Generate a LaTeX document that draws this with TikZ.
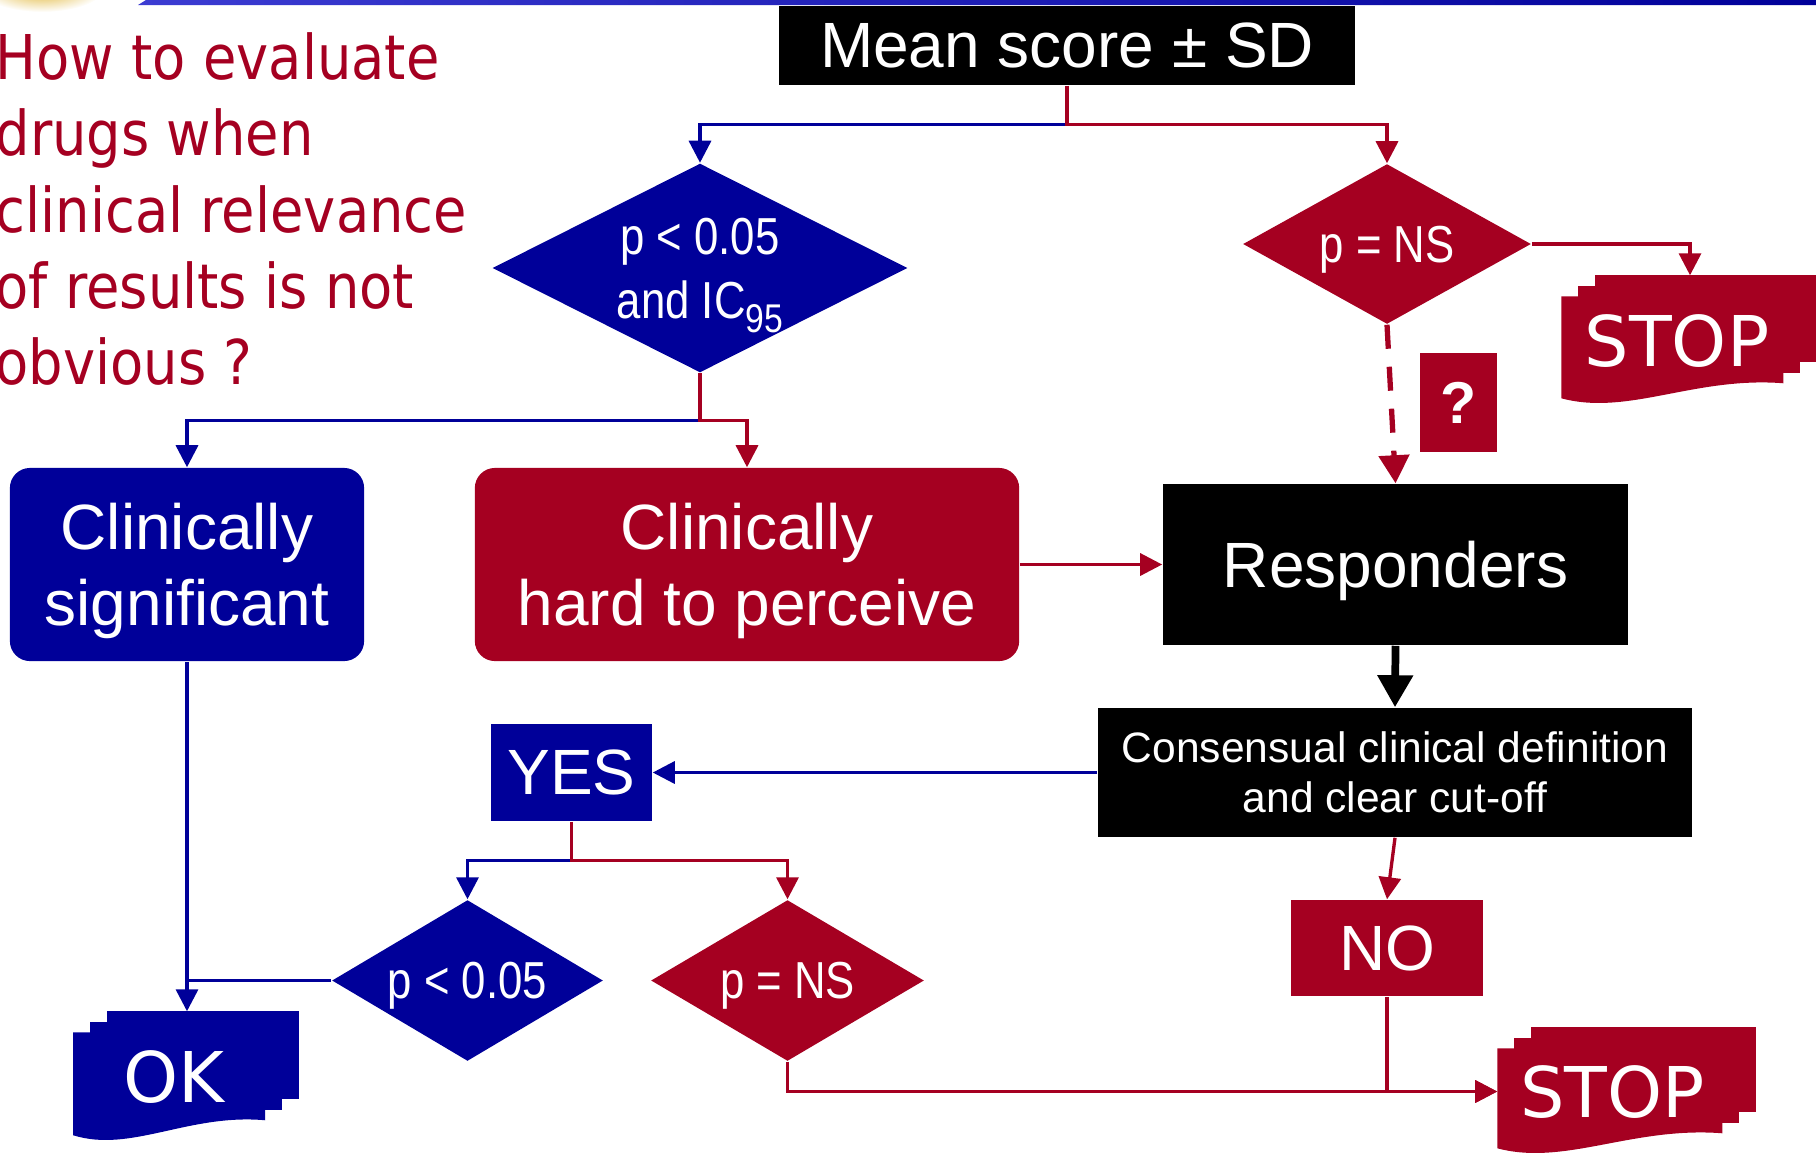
\documentclass[tikz,border=0pt]{standalone}
\usepackage{fontspec}
\setmainfont{Liberation Sans}
\newfontfamily\narrowfont[FakeStretch=0.84]{Liberation Sans}
\newfontfamily\titlefont[FakeStretch=0.88]{DejaVu Sans}
\newfontfamily\stopfont{DejaVu Sans}
\usetikzlibrary{positioning,shapes.geometric,arrows.meta,backgrounds}
\definecolor{navy}{RGB}{0,0,153}
\definecolor{wine}{RGB}{165,0,33}
\definecolor{gold}{RGB}{222,176,40}
\definecolor{barblue}{RGB}{60,60,210}

% stack of three sheets behind a node: name, colour, width, height (px)
\newcommand\docstack[4]{%
  \begin{scope}[on background layer,shift={(#1.north west)}]
    \fill[#2] (34,0) rectangle (#3,#4-42);
    \fill[#2] (17,10.5) rectangle (#3-17,#4-31.5);
    \fill[#2] (0,21) -- (#3-34,21) -- (#3-34,#4-21)
      .. controls (0.6*#3-20.4,#4-28) and (0.3*#3-10.2,#4+12) .. (0,#4-6) -- cycle;
  \end{scope}}

\begin{document}
\begin{tikzpicture}[x=0.01cm,y=-0.01cm,
  box/.style={rectangle,inner sep=0pt,text=white,align=center,text depth=0pt,
    font=\fontsize{18.2}{21.6}\selectfont},
  decision/.style={diamond,inner sep=0pt,text=white,align=center,text depth=0pt,
    font=\narrowfont\fontsize{14.8}{18.2}\selectfont},
  sheets/.style={box,font=\stopfont\fontsize{19.9}{19.9}\selectfont},
  blueline/.style={navy,line width=0.95pt,-{Triangle[length=0.22cm,width=0.22cm]}},
  redline/.style={wine,line width=0.95pt,-{Triangle[length=0.22cm,width=0.22cm]}}]
\useasboundingbox (0,0) rectangle (1816,1157);

% Draw the top banner
\begin{scope}
  \clip (0,0) rectangle (140,14);
  \shade[inner color=gold,outer color=white] (42,-12) ellipse (0.62cm and 0.24cm);
\end{scope}
\shade[left color=barblue,right color=navy] (138,5) -- (146,0) -- (1816,0) -- (1816,5) -- cycle;

% Define the question
\node[anchor=north west,inner sep=0pt,align=left,text=wine,
  font=\titlefont\fontsize{17.55}{21.7}\selectfont] (title) at (-5,32)
  {How to evaluate\\drugs when\\clinical relevance\\of results is not\\obvious ?};

% Define the nodes of the chart
\node[box,fill=black,minimum width=5.76cm,minimum height=0.79cm] (mean) at (1067,45.5) {Mean score ± SD};
\node[decision,fill=navy,aspect=2,minimum width=4.15cm,minimum height=2.09cm] (pcomb) at (700,268)
  {p < 0.05\\and IC\raisebox{-0.14cm}{\fontsize{11.4}{11.4}\selectfont 95}};
\node[decision,fill=wine,aspect=1.8,minimum width=2.88cm,minimum height=1.6cm] (pns1) at (1387,244) {p = NS};
\node[sheets,minimum width=2.56cm,minimum height=1.29cm] (stop1) at (1690,340.5) {STOP\hspace{0.26cm}};
\node[box,fill=wine,minimum width=0.77cm,minimum height=0.99cm,
  font=\bfseries\fontsize{16.8}{16.8}\selectfont] (qmark) at (1458.5,402.5) {?};
\node[box,fill=navy,rounded corners=0.2cm,minimum width=3.54cm,minimum height=1.93cm] (pleft) at (187,564.5)
  {Clinically\\significant};
\node[box,fill=wine,rounded corners=0.2cm,minimum width=5.44cm,minimum height=1.93cm] (phard) at (747,564.5)
  {Clinically\\hard to perceive};
\node[box,fill=black,minimum width=4.65cm,minimum height=1.61cm] (resp) at (1395.5,564.5) {Responders};
\node[box,fill=black,minimum width=5.94cm,minimum height=1.29cm,
  font=\fontsize{12.1}{14.2}\selectfont] (cons) at (1395,772.5)
  {Consensual clinical definition\\and clear cut-off};
\node[box,fill=navy,minimum width=1.61cm,minimum height=0.97cm] (yes) at (571.5,772.5) {YES};
\node[decision,fill=navy,aspect=1.68,minimum width=2.71cm,minimum height=1.61cm] (pd2) at (467.5,980.5) {p < 0.05};
\node[decision,fill=wine,aspect=1.7,minimum width=2.73cm,minimum height=1.61cm] (pns2) at (787.5,980.5) {p = NS};
\node[box,fill=wine,minimum width=1.92cm,minimum height=0.96cm] (no) at (1387,948) {NO};
\node[sheets,minimum width=2.26cm,minimum height=1.3cm] (ok) at (187,1077) {OK\hspace{0.26cm}};
\node[sheets,minimum width=2.59cm,minimum height=1.27cm] (stop2) at (1627.5,1091.5) {STOP\hspace{0.3cm}};

\docstack{stop1}{wine}{256}{129}
\docstack{ok}{navy}{226}{130}
\docstack{stop2}{wine}{259}{127}

% Define the branch points
\coordinate[below=0.39cm of mean] (j1);
\coordinate[below=0.47cm of pcomb] (j2);
\coordinate[below=0.39cm of yes] (j3);

% Draw the connectors
\draw[blueline] (j1) -| (pcomb.north);
\draw[redline] (mean.south) -- (j1) -| (pns1.north);
\draw[redline] (pns1.east) -| (stop1.north);
\draw[wine,line width=1.5pt,dash pattern=on 0.24cm off 0.18cm,
  -{Triangle[length=0.28cm,width=0.3cm]}] (pns1.south) -- (resp.north);
\draw[blueline] (j2) -| (pleft.north);
\draw[redline] (pcomb.south) -- (j2) -| (phard.north);
\draw[redline] (phard.east) -- (resp.west);
\draw[black,line width=2.2pt,-{Triangle[length=0.32cm,width=0.34cm]}] (resp.south) -- (cons.north);
\draw[blueline] (cons.west) -- (yes.east);
\draw[blueline] (j3) -| (pd2.north);
\draw[redline] (yes.south) -- (j3) -| (pns2.north);
\draw[redline] (cons.south) -- (no.north);
\draw[redline] (no.south) |- (stop2.west);
\draw[redline] (pns2.south) |- (stop2.west);
\draw[blueline] (pleft.south) -- (ok.north);
\draw[navy,line width=0.95pt] (pd2.west) -- (pd2.west -| pleft.south);
\end{tikzpicture}
\end{document}
